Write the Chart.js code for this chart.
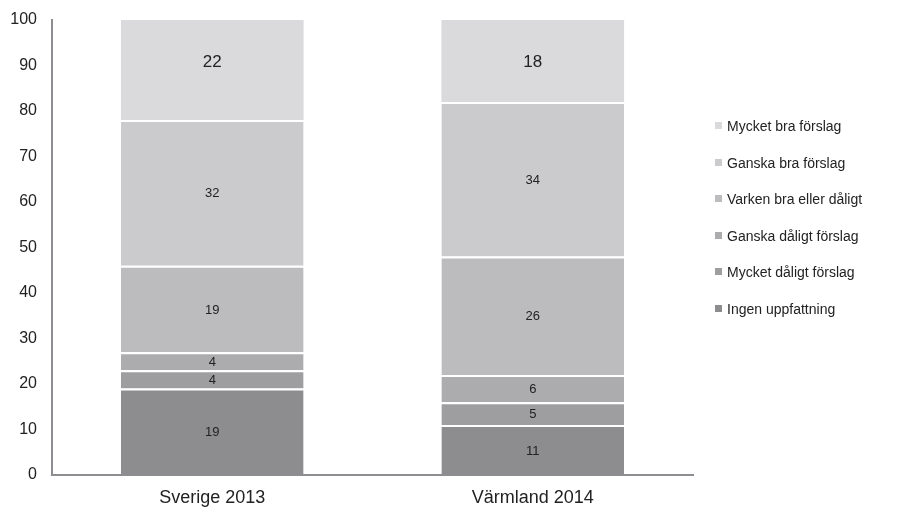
<!DOCTYPE html>
<html>
<head>
<meta charset="utf-8">
<script src="https://cdn.jsdelivr.net/npm/chart.js@4"></script>
<style>
  body { margin: 0; background: #fff; font-family: "Liberation Sans", Arial, sans-serif; }
  #wrap { position: relative; width: 901px; height: 512px; }
  #legend { position: absolute; left: 715px; top: 116px; margin: 0; padding: 0; list-style: none; }
  #legend li { height: 36.5px; line-height: 20px; font-size: 14px; color: #222; white-space: nowrap; }
  #legend span { display: inline-block; width: 7px; height: 7px; margin-right: 5px; vertical-align: 2px; }
</style>
</head>
<body>
<div id="wrap">
  <canvas id="chart" width="901" height="512"></canvas>
  <ul id="legend"></ul>
</div>
<script>
const categories = ['Sverige 2013', 'Värmland 2014'];
const seriesNames = ['Ingen uppfattning', 'Mycket dåligt förslag', 'Ganska dåligt förslag', 'Varken bra eller dåligt', 'Ganska bra förslag', 'Mycket bra förslag'];
const ingen = [19, 11];
const mycketDaligt = [4, 5];
const ganskaDaligt = [4, 6];
const varken = [19, 26];
const ganskaBra = [32, 34];
const mycketBra = [22, 18];
const yTicks = [0, 10, 20, 30, 40, 50, 60, 70, 80, 90, 100];

const colors = ['#8d8d90', '#9e9ea1', '#acacaf', '#bcbcbf', '#cbcbcd', '#dadadc'];
const values = [ingen, mycketDaligt, ganskaDaligt, varken, ganskaBra, mycketBra];
const topIndex = values.length - 1;

const datasets = values.map((v, i) => ({
  label: seriesNames[i],
  data: v,
  backgroundColor: colors[i],
  borderColor: '#ffffff',
  borderWidth: i === topIndex ? 0 : { top: 2 },
  borderSkipped: false,
  categoryPercentage: 1,
  barPercentage: 0.57
}));

// write each value in its segment; the top row sits near the top of the bar
const valueLabels = {
  id: 'valueLabels',
  afterDatasetsDraw(chart) {
    const ctx = chart.ctx;
    ctx.save();
    ctx.fillStyle = '#222';
    ctx.textAlign = 'center';
    ctx.textBaseline = 'middle';
    chart.data.datasets.forEach((ds, di) => {
      const meta = chart.getDatasetMeta(di);
      meta.data.forEach((bar, i) => {
        const isTop = di === topIndex;
        ctx.font = (isTop ? 17 : 13) + 'px "Liberation Sans", Arial, sans-serif';
        const y = isTop ? bar.y + 42 : (bar.y + bar.base) / 2 + 1;
        ctx.fillText(ds.data[i], bar.x, y);
      });
    });
    ctx.restore();
  }
};

new Chart(document.getElementById('chart'), {
  type: 'bar',
  data: { labels: categories, datasets },
  options: {
    responsive: false,
    animation: false,
    layout: { padding: { top: 20, right: 208, left: 0, bottom: 0 } },
    plugins: { legend: { display: false }, tooltip: { enabled: false } },
    scales: {
      x: {
        stacked: true,
        grid: { display: false, drawTicks: false },
        border: { color: '#8e8e92', width: 2 },
        ticks: { color: '#222', font: { size: 18, family: '"Liberation Sans", Arial, sans-serif' }, padding: 12 },
        afterFit(scale) { scale.height = 37; }
      },
      y: {
        stacked: true,
        min: 0,
        max: 100,
        afterBuildTicks(scale) { scale.ticks = yTicks.map(v => ({ value: v })); },
        grid: { display: false, drawTicks: false },
        border: { color: '#8e8e92', width: 2 },
        ticks: { color: '#222', font: { size: 16, family: '"Liberation Sans", Arial, sans-serif' }, padding: 15 },
        afterFit(scale) {
          scale.width = 52;
          scale.paddingTop = 10;
          scale.paddingBottom = 10;
        }
      }
    }
  },
  plugins: [valueLabels]
});

const legend = document.getElementById('legend');
for (let i = seriesNames.length - 1; i >= 0; i--) {
  const li = document.createElement('li');
  li.innerHTML = '<span style="background:' + colors[i] + '"></span>' + seriesNames[i];
  legend.appendChild(li);
}
</script>
</body>
</html>
